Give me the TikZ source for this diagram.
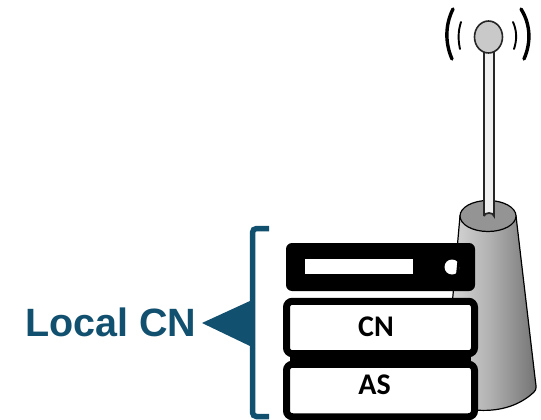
\documentclass[tikz,border=0pt]{standalone}
\usepackage{fontspec}
\setmainfont{Liberation Sans}
\newfontfamily\boxfont{Carlito}
\usetikzlibrary{shapes.geometric}
\definecolor{cnblue}{HTML}{12506F}
\tikzset{
  stackbox/.style={draw=black,fill=white,line width=7pt,rounded corners=6pt,minimum width=188pt,minimum height=52.5pt,inner sep=0pt},
  stacktext/.style={font=\boxfont\bfseries\fontsize{30}{30}\selectfont,text=black,inner sep=0pt},
  wave/.style={line cap=round,draw=black},
  outline/.style={draw=black,line width=1.2pt}
}
\begin{document}
\begin{tikzpicture}[x=1pt,y=-1pt]
\useasboundingbox (0,0) rectangle (541,420);
% cone
\path[left color=black!12,right color=black!55,middle color=black!30,outline]
  (460,216) -- (449,340) -- (440,400) .. controls (470,415) and (510,415) .. (534,392)
  .. controls (537,389) and (536,386) .. (535.5,382) -- (516,216) -- cycle;
\draw[outline,fill=black!42] (488,216) ellipse [x radius=28,y radius=15.5];
% mast
\draw[draw=black!85,fill=black!6,line width=1.8pt] (484,216) -- (484,50) -- (494,50) -- (494,216) arc[start angle=0,end angle=180,x radius=5,y radius=-3];
% antenna head
\node[ellipse,draw=black!85,fill=black!21,line width=1.6pt,minimum width=28pt,minimum height=32pt,inner sep=0pt] (head) at (488.5,37) {};
% waves
\draw[wave,line width=3.4pt] (453,9) .. controls (445,25) and (445,43) .. (452,59);
\draw[wave,line width=1.9pt] (461,22) .. controls (458,31) and (458,40) .. (460,49);
\draw[wave,line width=3.4pt] (521,9) .. controls (531,25) and (531,43) .. (524,59);
\draw[wave,line width=1.9pt] (513,22) .. controls (517,31) and (517,40) .. (514,49);
% server
\node[fill=black,rounded corners=6pt,minimum width=189pt,minimum height=48pt,inner sep=0pt] (server) at (380.5,267) {};
\node[fill=white,minimum width=108pt,minimum height=15pt,inner sep=0pt] (slot) at (359,266.5) {};
\node[circle,fill=white,minimum size=15pt,inner sep=0pt] (led) at (452,267) {};
\fill[black] (457.5,260) -- (460,262) -- (459.5,272) -- (456,275) -- cycle;
% stack
\node[stackbox] (as) at (380.5,390.5) {};
\node[stackbox] (cn) at (380.5,327.5) {};
\fill[black] (290,350) rectangle (471,368);
\node[stacktext] (cntext) at (376,327) {CN};
\node[stacktext] (astext) at (374.5,384.5) {AS};
% bracket and pointer
\draw[cnblue,line width=5.5pt,rounded corners=4pt] (269,228.5) -- (252.5,228.5) -- (252.5,416.5) -- (269,416.5);
\fill[cnblue] (202,323) -- (251,300.5) -- (251,346.5) -- cycle;
\node[font=\bfseries\fontsize{39.5}{39.5}\selectfont,text=cnblue,inner sep=0pt,anchor=base west] (label) at (25,336.5) {Local CN};
\end{tikzpicture}
\end{document}
